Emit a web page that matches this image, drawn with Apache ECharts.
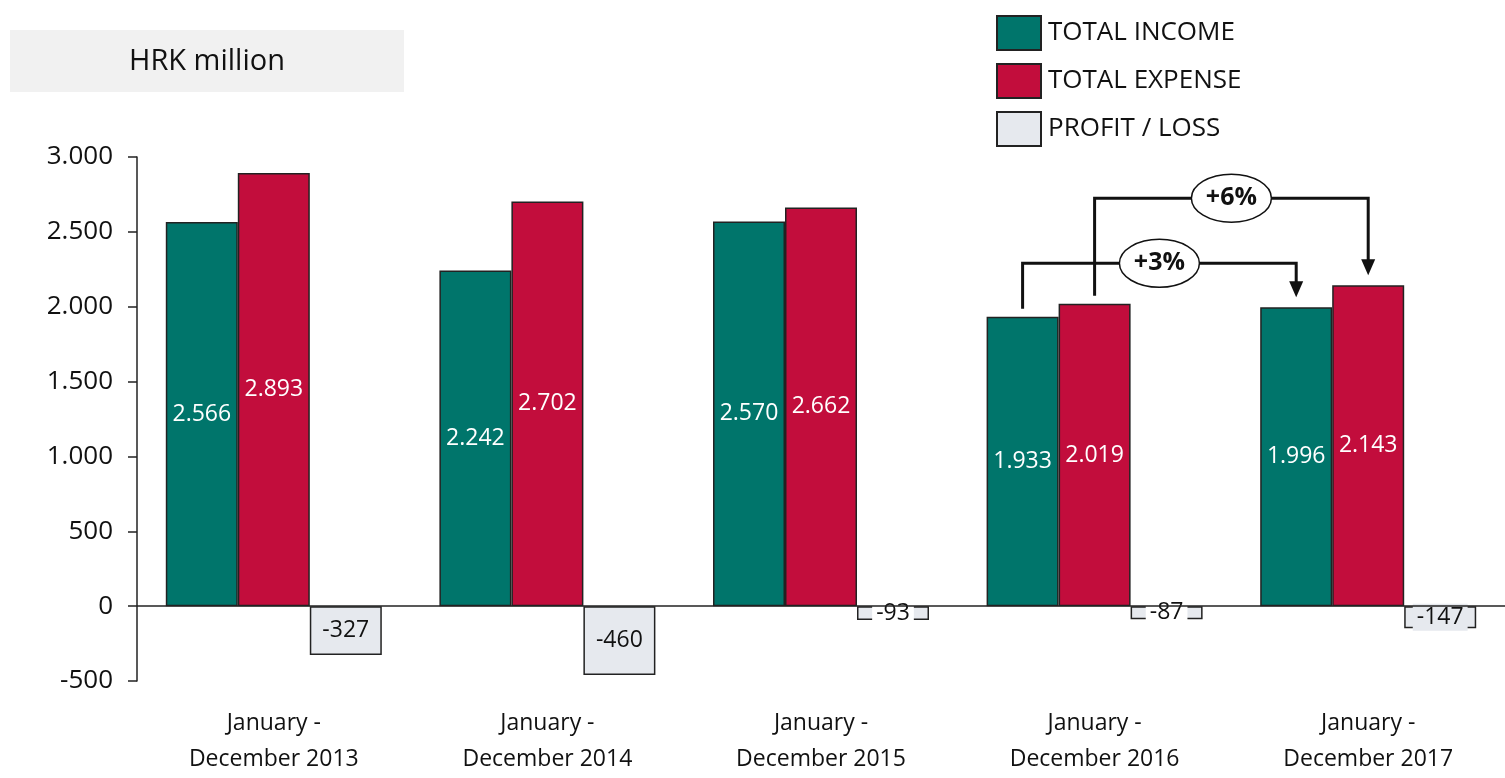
<!DOCTYPE html>
<html>
    <head>
        <meta charset="utf-8">
        <script src="https://cdn.jsdelivr.net/npm/echarts@6/dist/echarts.min.js"></script>
        <style>
            html, body { margin: 0; padding: 0; background: #fff; }
        </style>
    </head>
    <body>
        <div id="main" style="width: 1505px;height:778px;"></div>
        <script type="text/javascript">
            // data
            var periods = ['January -\nDecember 2013', 'January -\nDecember 2014', 'January -\nDecember 2015', 'January -\nDecember 2016', 'January -\nDecember 2017'];
            var income = [2566, 2242, 2570, 1933, 1996];
            var expense = [2893, 2702, 2662, 2019, 2143];
            var profit = [-327, -460, -93, -87, -147];
            var seriesNames = ['TOTAL INCOME', 'TOTAL EXPENSE', 'PROFIT / LOSS'];
            var changeLabels = ['+3%', '+6%'];

            var font = '"Open Sans", "Noto Sans", sans-serif';
            var fmt = function (v) {
                var s = String(Math.abs(v));
                s = s.replace(/\B(?=(\d{3})+(?!\d))/g, '.');
                return (v < 0 ? '-' : '') + s;
            };

            var myChart = echarts.init(document.getElementById('main'));

            // small losses get a white label box, like the original
            var profitData = profit.map(function (v) {
                return {
                    value: v,
                    label: { backgroundColor: v > -120 ? '#ffffff' : '#e6e9ee' }
                };
            });

            var option = {
                animation: false,
                textStyle: { fontFamily: font },
                legend: {
                    orient: 'vertical',
                    left: 991,
                    top: 10,
                    itemWidth: 44,
                    itemHeight: 34,
                    itemGap: 12,
                    icon: 'rect',
                    textStyle: { fontSize: 26, color: '#111', fontFamily: font, padding: [0, 0, 0, 2] },
                    data: seriesNames
                },
                grid: { left: 137, right: 0, top: 157, bottom: 97 },
                xAxis: {
                    type: 'category',
                    data: periods,
                    axisLine: { show: false, onZero: false },
                    axisTick: { show: false },
                    axisLabel: { fontSize: 23, color: '#111', lineHeight: 36, margin: 24, fontFamily: font }
                },
                yAxis: {
                    type: 'value',
                    min: -500,
                    max: 3000,
                    interval: 500,
                    splitLine: { show: false },
                    axisLine: { show: true, lineStyle: { color: '#222', width: 1.5 } },
                    axisTick: { show: true, length: 9, lineStyle: { color: '#222', width: 1.5 } },
                    axisLabel: { fontSize: 26, color: '#111', margin: 24, formatter: fmt, fontFamily: font }
                },
                series: [
                    {
                        name: seriesNames[0],
                        type: 'bar',
                        data: income,
                        barWidth: 72,
                        barGap: '0%',
                        itemStyle: { color: '#00756b', borderColor: '#222', borderWidth: 1.5 },
                        label: { show: true, position: 'inside', color: '#fff', fontSize: 23, formatter: function (p) { return fmt(p.value); } }
                    },
                    {
                        name: seriesNames[1],
                        type: 'bar',
                        data: expense,
                        barWidth: 72,
                        barGap: '0%',
                        itemStyle: { color: '#c20d3c', borderColor: '#222', borderWidth: 1.5 },
                        label: { show: true, position: 'inside', color: '#fff', fontSize: 23, formatter: function (p) { return fmt(p.value); } }
                    },
                    {
                        name: seriesNames[2],
                        type: 'bar',
                        data: profitData,
                        barWidth: 72,
                        barGap: '0%',
                        itemStyle: { color: '#e6e9ee', borderColor: '#222', borderWidth: 1.5 },
                        label: { show: true, position: 'inside', color: '#111', fontSize: 23, padding: [2, 4], formatter: function (p) { return fmt(p.value); } },
                        markLine: {
                            silent: true,
                            symbol: 'none',
                            label: { show: false },
                            lineStyle: { color: '#222', width: 1.5, type: 'solid' },
                            data: [{ yAxis: 0 }]
                        },
                        z: 3
                    }
                ]
            };
            myChart.setOption(option);

            // HRK million box + growth brackets, placed from data through the axes
            function px(catIdx, value) {
                return myChart.convertToPixel({ xAxisIndex: 0, yAxisIndex: 0 }, [catIdx, value]);
            }
            var barW = 72;
            var graphics = [
                {
                    type: 'rect', left: 10, top: 30,
                    shape: { width: 394, height: 62 },
                    style: { fill: '#f1f1f1' }
                },
                {
                    type: 'text', x: 207, y: 62,
                    style: { text: 'HRK million', font: '29px ' + font, fill: '#111', align: 'center', verticalAlign: 'middle' }
                }
            ];

            function bracket(fromIdx, toIdx, offset, fromVal, toVal, level, text) {
                var a = px(fromIdx, fromVal);
                var b = px(toIdx, toVal);
                var ly = px(fromIdx, level)[1];
                var x1 = a[0] + offset, x2 = b[0] + offset;
                var y1 = a[1] - 8, y2 = b[1] - 10;
                graphics.push({
                    type: 'polyline',
                    shape: { points: [[x1, y1], [x1, ly], [x2, ly], [x2, y2 - 14]] },
                    style: { stroke: '#111', lineWidth: 3, fill: null },
                    z: 10
                });
                graphics.push({
                    type: 'polygon',
                    shape: { points: [[x2 - 7, y2 - 16], [x2 + 7, y2 - 16], [x2, y2]] },
                    style: { fill: '#111' },
                    z: 10
                });
                var cx = (x1 + x2) / 2;
                graphics.push({
                    type: 'ellipse',
                    shape: { cx: cx, cy: ly, rx: 40, ry: 24 },
                    style: { fill: '#fff', stroke: '#111', lineWidth: 1.5 },
                    z: 11
                });
                graphics.push({
                    type: 'text',
                    x: cx, y: ly,
                    style: { text: text, font: 'bold 25px ' + font, fill: '#111', align: 'center', verticalAlign: 'middle' },
                    z: 12
                });
            }
            bracket(3, 4, -barW, income[3], income[4], 2290, changeLabels[0]);
            bracket(3, 4, 0, expense[3], expense[4], 2725, changeLabels[1]);

            myChart.setOption({ graphic: graphics });
        </script>
    </body>
</html>
